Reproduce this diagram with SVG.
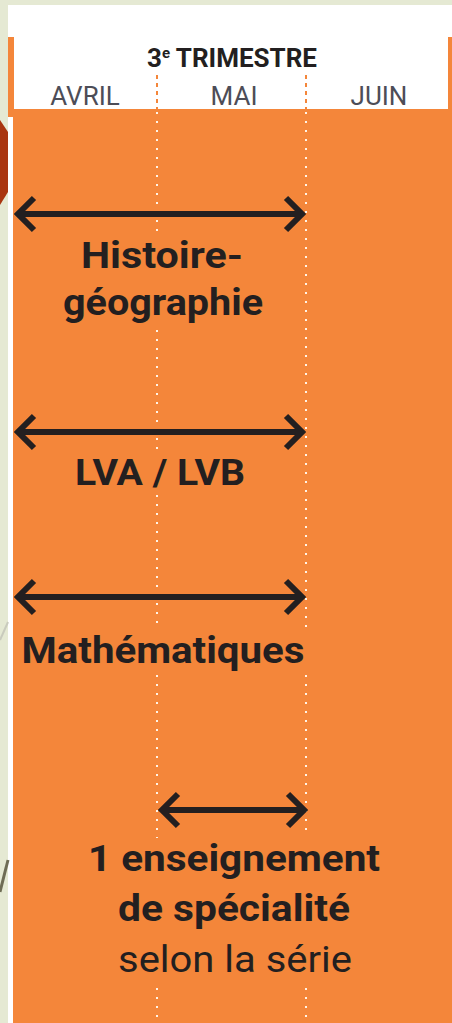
<svg xmlns="http://www.w3.org/2000/svg" width="452" height="1023" viewBox="0 0 452 1023">
<defs>
<style>
.bold{font-family:Roboto,"Liberation Sans",sans-serif;font-weight:700;fill:#231f20;text-anchor:middle}
.reg{font-family:Roboto,"Liberation Sans",sans-serif;font-weight:400;fill:#231f20;text-anchor:middle}
.month{font-family:Roboto,"Liberation Sans",sans-serif;font-weight:400;fill:#4d4d57;text-anchor:middle;font-size:26px}
.dots{stroke:#fff3e6;stroke-width:2;stroke-dasharray:2 7;fill:none}
.hdash{stroke:#f4863a;stroke-width:2;stroke-dasharray:4 4;fill:none}
.arrow{stroke:#231f20;stroke-width:6;fill:none;stroke-linecap:butt;stroke-linejoin:miter}
</style>
</defs>
<!-- background -->
<rect x="0" y="0" width="452" height="1023" fill="#e5e9d3"/>
<rect x="8" y="5" width="444" height="1018" fill="#ffffff"/>
<polygon points="0,120 8,132 8,192 0,205" fill="#a93510"/>
<line x1="0" y1="640" x2="8" y2="622" stroke="#c9cbbd" stroke-width="2"/>
<line x1="0" y1="892" x2="8" y2="860" stroke="#6e6c55" stroke-width="3"/>
<!-- panel -->
<rect x="8" y="37" width="444" height="80" fill="#f4863a"/>
<rect x="13" y="110" width="439" height="913" fill="#f4863a"/>
<rect x="14" y="37" width="434" height="72" fill="#ffffff"/>
<!-- header -->
<g id="header">
<text class="bold" x="232" y="67" font-size="26">3<tspan font-size="15" dy="-9">e</tspan><tspan dy="9"> TRIMESTRE</tspan></text>
<text class="month" x="85" y="105">AVRIL</text>
<text class="month" x="234" y="105">MAI</text>
<text class="month" x="379" y="105">JUIN</text>
<line class="hdash" x1="157" y1="75" x2="157" y2="109"/>
<line class="hdash" x1="306" y1="75" x2="306" y2="109"/>
</g>
<!-- dotted month separators -->
<g id="grid">
<line class="dots" x1="157" y1="112" x2="157" y2="232"/>
<line class="dots" x1="157" y1="330" x2="157" y2="452"/>
<line class="dots" x1="157" y1="495" x2="157" y2="630"/>
<line class="dots" x1="157" y1="675" x2="157" y2="838"/>
<line class="dots" x1="157" y1="988" x2="157" y2="1023"/>
<line class="dots" x1="306" y1="112" x2="306" y2="628"/>
<line class="dots" x1="306" y1="675" x2="306" y2="835"/>
<line class="dots" x1="306" y1="988" x2="306" y2="1023"/>
</g>
<!-- connectors -->
<g id="connectors">
<path class="arrow" d="M19,214 H301 M34,198 L18,214 L34,230 M286,198 L302,214 L286,230"/>
<path class="arrow" d="M19,432 H301 M34,416 L18,432 L34,448 M286,416 L302,432 L286,448"/>
<path class="arrow" d="M19,597 H301 M34,581 L18,597 L34,613 M286,581 L302,597 L286,613"/>
<path class="arrow" d="M163,810 H303 M178,794 L162,810 L178,826 M288,794 L304,810 L288,826"/>
</g>
<!-- nodes -->
<g id="histoire">
<text class="bold" x="162" y="268" font-size="37" textLength="162" lengthAdjust="spacingAndGlyphs">Histoire-</text>
<text class="bold" x="163" y="315" font-size="37" textLength="200" lengthAdjust="spacingAndGlyphs">géographie</text>
</g>
<g id="lva">
<text class="bold" x="160" y="485" font-size="37" textLength="170" lengthAdjust="spacingAndGlyphs">LVA / LVB</text>
</g>
<g id="maths">
<text class="bold" x="163" y="663" font-size="37" textLength="283" lengthAdjust="spacingAndGlyphs">Mathématiques</text>
</g>
<g id="specialite">
<text class="bold" x="234" y="871" font-size="37" textLength="292" lengthAdjust="spacingAndGlyphs">1 enseignement</text>
<text class="bold" x="234" y="921" font-size="37" textLength="232" lengthAdjust="spacingAndGlyphs">de spécialité</text>
<text class="reg" x="235" y="972" font-size="37" textLength="234" lengthAdjust="spacingAndGlyphs">selon la série</text>
</g>
</svg>
